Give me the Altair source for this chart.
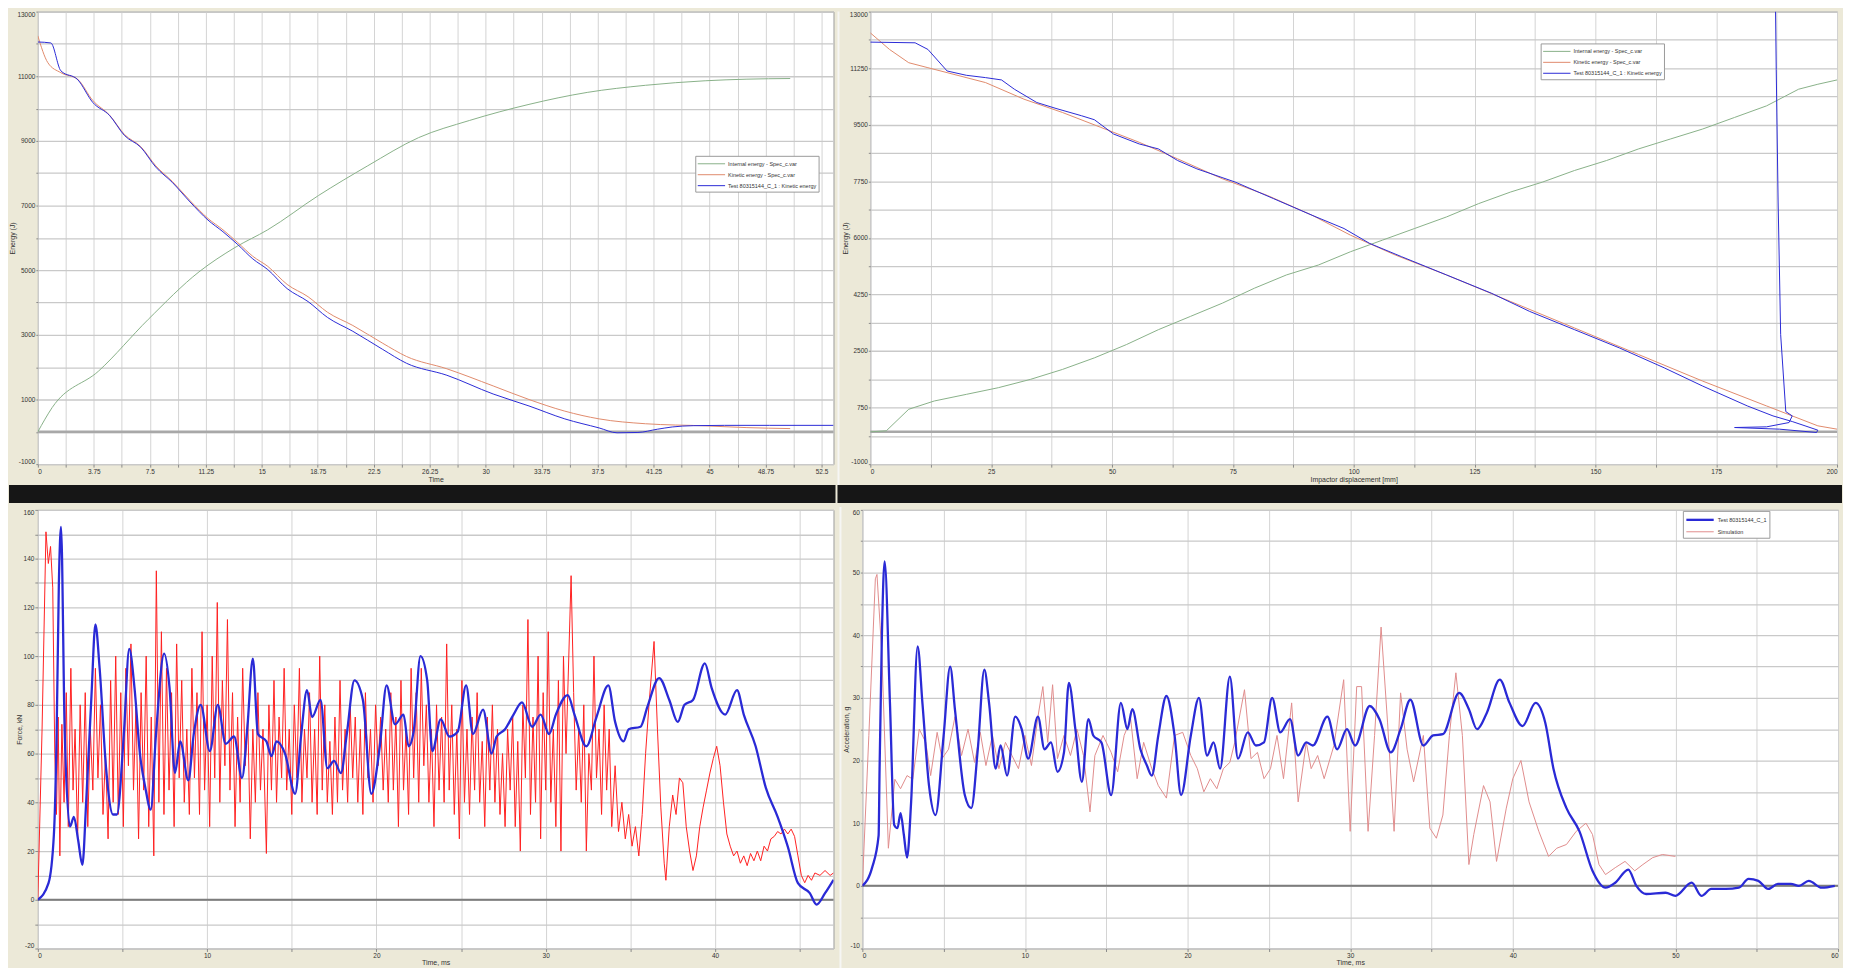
import json
import altair as alt
import pandas as pd

# ------------------------------------------------------------------ data
SERIES_TOP = ["Internal energy - Spec_c.var", "Kinetic energy - Spec_c.var",
              "Test 80315144_C_1 : Kinetic energy"]
SERIES_BOTTOM = ["Test 80315144_C_1", "Simulation"]

# top-left: energy [J] vs time
TL_INTERNAL = [(0, 0), (0.96, 750), (4.07, 1880), (7.4, 3480), (10.8, 4950), (13.2, 5700),
               (15.4, 6250), (18.8, 7310), (22.1, 8230), (25.5, 9100), (28.9, 9630),
               (32.9, 10130), (36.8, 10500), (40.7, 10720), (44.7, 10860), (47.5, 10910),
               (50.4, 10930)]
TL_KINETIC = [(0, 12250), (0.67, 11420), (1.54, 11110), (2.68, 10900), (3.68, 10250), (4.8, 9800),
              (5.8, 9200), (6.9, 8820), (7.9, 8230), (9.0, 7750), (10.2, 7150), (11.4, 6600),
              (12.4, 6250), (13.4, 5850), (14.4, 5430), (15.4, 5120), (16.7, 4560), (18.1, 4180),
              (19.4, 3700), (21.1, 3290), (23.1, 2740), (24.7, 2330), (27.4, 1950), (30.5, 1420),
              (32.9, 1000), (35.3, 640), (37.6, 400), (40.7, 250), (44.7, 185), (47.5, 130),
              (50.4, 100)]
TL_TEST = [(0, 12060), (0.87, 12030), (1.54, 11170), (2.68, 10890), (3.68, 10190), (4.8, 9790),
           (5.8, 9170), (6.9, 8800), (7.9, 8190), (9.0, 7720), (10.2, 7110), (11.4, 6550),
           (12.4, 6190), (13.4, 5790), (14.4, 5350), (15.4, 5020), (16.7, 4430), (18.1, 4030),
           (19.4, 3540), (21.1, 3110), (23.1, 2550), (24.7, 2120), (27.4, 1750), (30.5, 1170),
           (32.9, 800), (35.3, 400), (37.6, 120), (38.8, -30), (40.2, -20), (41.5, 80),
           (42.5, 150), (43.9, 190), (46.0, 200), (49.0, 200), (53.3, 200)]

# top-right: energy [J] vs impactor displacement [mm]
TR_INTERNAL = [(0, 0), (3.31, 31), (7.95, 698), (13.25, 954), (19.87, 1159), (26.49, 1365),
               (33.11, 1621), (39.74, 1929), (46.36, 2288), (52.98, 2698), (59.60, 3160),
               (66.23, 3570), (72.85, 3981), (79.47, 4443), (86.09, 4853), (92.72, 5161),
               (99.34, 5571), (105.96, 5930), (112.58, 6289), (119.21, 6648), (125.83, 7059),
               (132.45, 7418), (139.07, 7726), (145.70, 8085), (152.32, 8393), (158.94, 8752),
               (165.56, 9060), (172.19, 9367), (178.81, 9726), (185.43, 10085), (192.05, 10599),
               (196.03, 10753), (200, 10886)]
TR_KINETIC = [(0, 12343), (3.97, 11830), (7.95, 11419), (11.92, 11265), (15.89, 11112),
              (23.84, 10804), (31.79, 10291), (39.74, 9880), (47.68, 9419), (55.63, 8957),
              (63.58, 8444), (72.85, 7828), (82.12, 7315), (91.39, 6700), (99.34, 6084),
              (108.61, 5469), (119.21, 4853), (132.45, 4032), (145.70, 3211), (158.94, 2391),
              (172.19, 1570), (185.43, 800), (196.03, 185), (200, 82)]
TR_TEST = [(0, 12056), (9.27, 12035), (11.92, 11830), (15.89, 11163), (19.87, 11030),
           (23.84, 10958), (27.15, 10886), (29.80, 10599), (34.44, 10188), (38.41, 10004),
           (43.71, 9778), (46.36, 9655), (50.33, 9213), (55.63, 8906), (59.60, 8752),
           (63.58, 8393), (67.55, 8136), (75.50, 7726), (83.44, 7213), (91.39, 6700),
           (98.01, 6289), (103.31, 5828), (109.93, 5417), (119.21, 4853), (128.48, 4289),
           (136.42, 3724), (145.70, 3160), (154.97, 2596), (164.24, 1980), (172.19, 1416),
           (181.46, 800), (186.75, 492), (190.73, 318), (193.38, 185), (196.03, 51),
           (195.76, -21), (188.08, 82), (178.81, 133), (185.43, 154), (190.07, 287),
           (190.73, 492), (189.40, 626), (188.34, 3006), (187.81, 7110), (187.42, 11214),
           (187.28, 13000)]

# bottom-left: force [kN] vs time [ms]
BL_TEST = [(0, 0), (0.63, 6.8), (0.95, 27), (1.11, 68), (1.24, 129), (1.37, 153), (1.59, 68),
           (1.9, 30), (2.13, 34), (2.38, 24.5), (2.63, 14.3), (2.86, 40.8), (3.17, 84), (3.4, 113),
           (3.65, 95), (4.03, 54), (4.44, 35), (4.67, 35), (5.08, 68), (5.4, 103), (5.71, 87),
           (6.03, 60), (6.35, 46), (6.67, 37), (6.98, 68), (7.46, 101), (7.78, 87), (8.1, 52),
           (8.41, 65), (8.89, 49), (9.21, 68), (9.62, 80), (10.16, 61), (10.63, 80), (11.1, 64),
           (11.59, 67), (12.06, 50), (12.38, 71), (12.7, 99), (13.0, 68), (13.5, 65), (13.8, 59),
           (14.1, 65), (14.6, 60), (15.2, 43.5), (15.56, 68), (15.9, 86), (16.2, 75), (16.7, 82),
           (17.1, 54), (17.5, 57), (17.9, 52), (18.25, 68), (18.7, 90), (19.2, 82), (19.7, 43.5),
           (20.2, 63), (20.6, 88), (21.1, 72), (21.6, 76), (21.9, 63), (22.2, 69), (22.6, 100),
           (23.0, 90), (23.3, 61), (23.8, 74), (24.3, 67), (24.8, 69), (25.3, 88), (25.7, 68),
           (26.3, 78), (26.8, 60), (27.1, 67), (27.6, 70), (28.1, 76), (28.6, 81), (29.2, 71),
           (29.7, 76), (30.2, 68), (30.6, 76), (31.3, 84), (31.7, 76), (32.4, 63), (33.0, 75),
           (33.7, 88), (34.1, 73), (34.6, 65), (34.9, 70), (35.6, 71), (36.0, 79), (36.7, 91),
           (37.3, 82), (37.8, 73), (38.2, 80), (38.7, 82), (39.4, 97), (39.8, 87), (40.6, 76),
           (41.3, 86), (41.7, 76), (42.4, 63), (43.0, 46), (43.7, 34), (44.3, 21.8), (44.9, 6.8),
           (45.6, 2.7), (46.0, -2), (46.5, 2.7), (47.0, 8.2)]
BL_SIM = [(0, 0), (0.25, 70), (0.48, 151), (0.62, 138), (0.75, 145), (0.88, 128), (1.0, 60),
          (1.1, 35), (1.2, 75), (1.3, 18), (1.42, 72), (1.55, 40), (1.68, 85), (1.8, 30),
          (1.95, 95), (2.08, 45), (2.2, 70), (2.35, 25), (2.5, 80), (2.65, 40), (2.8, 85),
          (2.95, 30), (3.1, 70), (3.25, 45), (3.4, 95), (3.55, 50), (3.7, 80), (3.85, 35),
          (4.0, 60), (4.15, 25), (4.3, 90), (4.45, 40), (4.6, 100), (4.75, 35), (4.9, 85),
          (5.05, 30), (5.2, 95), (5.35, 55), (5.5, 105), (5.65, 45), (5.8, 80), (5.95, 25),
          (6.1, 85), (6.25, 45), (6.4, 100), (6.55, 30), (6.7, 75), (6.85, 18), (7.0, 135),
          (7.15, 40), (7.3, 110), (7.45, 35), (7.6, 95), (7.75, 45), (7.9, 85), (8.05, 30),
          (8.2, 105), (8.35, 50), (8.5, 90), (8.65, 40), (8.8, 70), (8.95, 35), (9.1, 95),
          (9.25, 50), (9.4, 85), (9.55, 35), (9.7, 110), (9.85, 45), (10.0, 80), (10.15, 30),
          (10.3, 100), (10.45, 50), (10.6, 122), (10.75, 40), (10.9, 90), (11.05, 55),
          (11.2, 115), (11.35, 45), (11.5, 85), (11.65, 30), (11.8, 75), (11.95, 40), (12.1, 95),
          (12.25, 55), (12.4, 75), (12.55, 25), (12.7, 70), (12.85, 40), (13.0, 85), (13.15, 45),
          (13.3, 70), (13.5, 19), (13.65, 80), (13.8, 45), (13.95, 90), (14.1, 40), (14.25, 75),
          (14.4, 50), (14.55, 95), (14.7, 45), (14.85, 70), (15.0, 35), (15.15, 80), (15.3, 50),
          (15.45, 95), (15.6, 40), (15.75, 70), (15.9, 50), (16.05, 85), (16.2, 40), (16.35, 70),
          (16.5, 35), (16.65, 100), (16.8, 45), (16.95, 80), (17.1, 40), (17.25, 65), (17.4, 35),
          (17.55, 75), (17.7, 40), (17.85, 90), (18.0, 45), (18.15, 70), (18.3, 40), (18.45, 80),
          (18.6, 50), (18.75, 75), (18.9, 40), (19.05, 70), (19.2, 35), (19.35, 85), (19.5, 50),
          (19.65, 70), (19.8, 40), (19.95, 80), (20.1, 55), (20.25, 75), (20.4, 45), (20.55, 70),
          (20.7, 40), (20.85, 85), (21.0, 45), (21.15, 75), (21.3, 30), (21.45, 90), (21.6, 45),
          (21.75, 70), (21.9, 35), (22.05, 95), (22.2, 50), (22.35, 85), (22.5, 40), (22.65, 95),
          (22.8, 55), (22.95, 80), (23.1, 40), (23.25, 70), (23.4, 30), (23.55, 80), (23.7, 45),
          (23.85, 75), (24.0, 40), (24.15, 105), (24.3, 45), (24.45, 80), (24.6, 35), (24.75, 70),
          (24.9, 25), (25.05, 90), (25.2, 40), (25.35, 70), (25.5, 35), (25.65, 75), (25.8, 45),
          (25.95, 85), (26.1, 40), (26.25, 65), (26.4, 30), (26.55, 75), (26.7, 45), (26.85, 80),
          (27.0, 40), (27.15, 70), (27.3, 35), (27.45, 60), (27.6, 30), (27.75, 70), (27.9, 45),
          (28.05, 75), (28.2, 30), (28.35, 65), (28.5, 20), (28.65, 80), (28.8, 50), (28.95, 115),
          (29.1, 35), (29.25, 75), (29.4, 40), (29.55, 100), (29.7, 25), (29.85, 85), (30.0, 45),
          (30.15, 110), (30.3, 40), (30.45, 70), (30.6, 30), (30.75, 90), (30.9, 20), (31.05, 100),
          (31.2, 60), (31.5, 133), (31.65, 85), (31.8, 45), (31.95, 70), (32.1, 40), (32.25, 80),
          (32.4, 20), (32.55, 60), (32.7, 45), (32.85, 100), (33.0, 50), (33.15, 70), (33.3, 35),
          (33.45, 80), (33.6, 45), (33.75, 70), (33.9, 30), (34.1, 55), (34.3, 28), (34.5, 40),
          (34.7, 25), (34.9, 35), (35.1, 22), (35.3, 30), (35.5, 18), (35.7, 35), (35.9, 60),
          (36.1, 80), (36.4, 106), (36.6, 70), (36.8, 38), (37.0, 15), (37.1, 8), (37.3, 30),
          (37.5, 43), (37.7, 35), (37.9, 50), (38.1, 48), (38.3, 30), (38.5, 20), (38.7, 12),
          (38.9, 18), (39.1, 30), (39.3, 38), (39.5, 45), (39.7, 52), (39.9, 58), (40.1, 63),
          (40.3, 55), (40.5, 40), (40.7, 27), (40.9, 22), (41.1, 18), (41.3, 20), (41.5, 15),
          (41.7, 18), (41.9, 14), (42.1, 19), (42.3, 16), (42.5, 20), (42.7, 16), (42.9, 22),
          (43.1, 20), (43.3, 25), (43.5, 26), (43.7, 28), (43.9, 27), (44.1, 29), (44.3, 27),
          (44.5, 29), (44.7, 26), (44.9, 18), (45.1, 10), (45.3, 7), (45.5, 10), (45.7, 8),
          (45.9, 11), (46.2, 10), (46.5, 12), (46.8, 10), (47.0, 11)]

# bottom-right: acceleration [g] vs time [ms]
BR_TEST = [(0, 0), (0.6, 2.9), (1.0, 8), (1.06, 18.7), (1.2, 39.7), (1.37, 51.8), (1.7, 29),
           (1.96, 9.7), (2.16, 9.2), (2.35, 11.6), (2.55, 8.2), (2.75, 4.5), (3.0, 13.4),
           (3.4, 38.2), (3.7, 29), (4.1, 16), (4.5, 11.3), (5.0, 24), (5.4, 35), (5.7, 28),
           (6.3, 14.5), (6.7, 12.4), (7.1, 21.8), (7.5, 34.5), (7.8, 29), (8.2, 18.7), (8.5, 22.4),
           (8.9, 17.6), (9.4, 27), (9.8, 25), (10.2, 20.3), (10.8, 27), (11.2, 21.8), (11.6, 22.9),
           (12.0, 18.2), (12.4, 21.3), (12.7, 32.4), (13.1, 25), (13.5, 16.6), (13.9, 26.6),
           (14.2, 24), (14.7, 22.9), (15.3, 14.5), (15.9, 29.2), (16.3, 25), (16.6, 28.2),
           (17.1, 21.8), (17.5, 19.2), (17.8, 17.6), (18.2, 24), (18.7, 30.3), (19.2, 24),
           (19.6, 14.5), (20.2, 24), (20.7, 30), (21.2, 20.8), (21.6, 22.9), (22.0, 18.7),
           (22.6, 33.4), (23.1, 20.3), (23.7, 24.5), (24.2, 22.4), (24.7, 22.9), (25.2, 30),
           (25.7, 24.5), (26.3, 26.6), (26.8, 20.8), (27.3, 22.9), (27.7, 22.4), (28.6, 27),
           (29.2, 21.8), (29.8, 25), (30.3, 22.4), (31.2, 28.7), (31.8, 26.6), (32.5, 21.3),
           (33.1, 25), (33.7, 29.7), (34.5, 22.4), (35.1, 24), (35.7, 24.2), (36.7, 30.8),
           (37.3, 28.2), (37.8, 25), (38.4, 27.6), (39.2, 32.9), (39.8, 29.2), (40.6, 25.5),
           (41.4, 29.2), (42.0, 26), (42.5, 18.7), (43.3, 12.4), (44.1, 8.7), (44.9, 2.4),
           (45.7, -0.3), (46.3, 0.5), (47.1, 2.6), (47.6, 0), (48.2, -1.3), (49.4, -1.1),
           (50.0, -1.6), (51.0, 0.5), (51.6, -1.6), (52.2, -0.5), (53.1, -0.5), (53.9, -0.3),
           (54.5, 1.1), (55.1, 0.8), (55.7, -0.5), (56.3, 0.3), (57.1, 0.3), (57.6, 0),
           (58.2, 0.8), (59.0, -0.3), (59.8, 0)]
BR_SIM = [(0, 0), (0.4, 24), (0.8, 49), (0.9, 49.7), (1.2, 37), (1.6, 6), (2.0, 17), (2.35, 15.5),
          (2.75, 17.6), (3.1, 17), (3.5, 25), (3.9, 22.9), (4.2, 17.6), (4.6, 24.5), (4.9, 20.3),
          (5.3, 21.8), (5.7, 27), (6.1, 20.8), (6.5, 25), (6.9, 19.7), (7.25, 24.5), (7.6, 19.2),
          (8.0, 24), (8.4, 18.7), (8.8, 22.9), (9.2, 20.8), (9.6, 18.7), (10.0, 24), (10.4, 19.2),
          (10.8, 27), (11.1, 31.8), (11.4, 22.9), (11.7, 32.1), (12.0, 20.3), (12.4, 24),
          (12.8, 20.8), (13.2, 25), (13.6, 20.8), (14.0, 11.8), (14.3, 20.8), (14.8, 24),
          (15.3, 21.3), (15.7, 18.2), (16.1, 24), (16.5, 26.6), (16.9, 17.1), (17.3, 22.9),
          (17.8, 18.7), (18.2, 16), (18.7, 14), (19.2, 24), (19.7, 24.5), (20.2, 20.8),
          (20.6, 18.7), (21.0, 15), (21.4, 17.1), (21.8, 15.5), (22.2, 18.7), (22.6, 19.7),
          (22.9, 22.9), (23.5, 31.3), (23.9, 20.3), (24.3, 21.3), (24.7, 17.1), (25.1, 18.7),
          (25.5, 24), (25.9, 17.1), (26.4, 29.2), (26.8, 13.4), (27.3, 22.9), (27.6, 18.7),
          (28.0, 20.8), (28.4, 17.1), (29.0, 22.4), (29.6, 32.9), (30.0, 8.7), (30.4, 31.8),
          (30.7, 31.8), (31.1, 8.7), (31.5, 24), (31.9, 41.3), (32.3, 26), (32.7, 8.7),
          (33.1, 30.8), (33.5, 21.8), (33.9, 16.6), (34.5, 24), (34.9, 9.2), (35.3, 7.6),
          (35.7, 11.3), (36.1, 24), (36.5, 34), (36.9, 24), (37.3, 3.4), (37.6, 8.2), (38.2, 16),
          (38.6, 13.4), (39.0, 3.9), (39.6, 12.4), (40.0, 17.1), (40.5, 20), (41.0, 13.4),
          (41.6, 8.7), (42.2, 4.7), (42.7, 6), (43.3, 6.6), (43.9, 8.7), (44.5, 10), (44.9, 8.2),
          (45.3, 3.4), (45.7, 1.8), (46.3, 2.9), (46.9, 3.9), (47.5, 2.4), (48.0, 3.4),
          (48.6, 4.5), (49.2, 5), (50.0, 4.7)]

# tick / grid values
TL_X_GRID = [0, 1.875, 3.75, 5.625, 7.5, 9.375, 11.25, 13.125, 15, 16.875, 18.75, 20.625, 22.5,
             24.375, 26.25, 28.125, 30, 31.875, 33.75, 35.625, 37.5, 39.375, 41.25, 43.125, 45,
             46.875, 48.75, 50.625, 52.5]
TL_X_LABELS = [0, 3.75, 7.5, 11.25, 15, 18.75, 22.5, 26.25, 30, 33.75, 37.5, 41.25, 45, 48.75, 52.5]
TL_Y_GRID = [-1000, 0, 1000, 2000, 3000, 4000, 5000, 6000, 7000, 8000, 9000, 10000, 11000,
             12000, 13000]
TL_Y_LABELS = [-1000, 1000, 3000, 5000, 7000, 9000, 11000, 13000]
TR_X_GRID = [0, 12.5, 25, 37.5, 50, 62.5, 75, 87.5, 100, 112.5, 125, 137.5, 150, 162.5, 175,
             187.5, 200]
TR_X_LABELS = [0, 25, 50, 75, 100, 125, 150, 175, 200]
TR_Y_GRID = [-1000, -125, 750, 1625, 2500, 3375, 4250, 5125, 6000, 6875, 7750, 8625, 9500,
             10375, 11250, 12125, 13000]
TR_Y_LABELS = [-1000, 750, 2500, 4250, 6000, 7750, 9500, 11250, 13000]
BL_X_GRID = [0, 5, 10, 15, 20, 25, 30, 35, 40, 45]
BL_X_LABELS = [0, 10, 20, 30, 40]
BL_Y_GRID = [-20, -10, 0, 10, 20, 30, 40, 50, 60, 70, 80, 90, 100, 110, 120, 130, 140, 150, 160]
BL_Y_LABELS = [-20, 0, 20, 40, 60, 80, 100, 120, 140, 160]
BR_X_GRID = [0, 5, 10, 15, 20, 25, 30, 35, 40, 45, 50, 55, 60]
BR_X_LABELS = [0, 10, 20, 30, 40, 50, 60]
BR_Y_GRID = [-10, -5, 0, 5, 10, 15, 20, 25, 30, 35, 40, 45, 50, 55, 60]
BR_Y_LABELS = [-10, 0, 10, 20, 30, 40, 50, 60]

# ------------------------------------------------------------------ style
FONT = "Liberation Sans"
BEIGE = "#ECE9D8"
BAND = "#161616"
SEP = "#f6f6f4"
BLUE = "#2a2ad6"
GREEN_T = "#88b088"
RED_T = "#e08a6c"
RED_BL = "#ff2020"
RED_BR = "#e08c8c"


def frame(pairs, name, field):
    return pd.DataFrame({"x": [p[0] for p in pairs], "y": [p[1] for p in pairs],
                         field: name, "i": list(range(len(pairs)))})


def axis(title, grid_vals, label_vals, **kw):
    expr = ("indexof(" + json.dumps(label_vals) + ", datum.value) >= 0 ? '' + datum.value : ''")
    base = dict(title=title, values=grid_vals, labelExpr=expr, grid=True,
                gridColor="#d4d4d4", gridWidth=1, domain=False, tickColor="#8a8a8a",
                tickSize=3, labelFont=FONT, labelFontSize=6.5, labelColor="#333333",
                titleFont=FONT, titleFontSize=7, titleFontWeight="normal",
                titleColor="#333333", labelPadding=1, titlePadding=1)
    base.update(kw)
    return alt.Axis(**base)


def legend(lx, ly, size=5.5):
    # long horizontal stroke symbol in a short (11 px) legend row
    return alt.Legend(orient="none", legendX=lx, legendY=ly, title=None, fillColor="white",
                      strokeColor="#9a9a9a", padding=2, labelFont=FONT, labelFontSize=size,
                      labelColor="#333333", symbolType="M -1 0 L 4 0", symbolSize=121,
                      rowPadding=1, labelLimit=300, labelOffset=19)


ONE = pd.DataFrame({"k": [0]})


def rect(x, x2, y, y2, color, opacity=1.0):
    return alt.Chart(ONE).mark_rect(color=color, opacity=opacity).encode(
        x=alt.value(x), x2=alt.value(x2), y=alt.value(y), y2=alt.value(y2))


def panel(W, H, field, layers, xdom, ydom, xax, yax, dom, colors, widths, leg,
          zero_color, zero_w, deco):
    X = alt.X("x:Q", scale=alt.Scale(domain=xdom, nice=False, zero=False), axis=xax)
    Y = alt.Y("y:Q", scale=alt.Scale(domain=ydom, nice=False, zero=False), axis=yax)
    col = alt.Color(field + ":N", scale=alt.Scale(domain=dom, range=colors), legend=leg)
    sw = alt.StrokeWidth(field + ":N", scale=alt.Scale(domain=dom, range=widths), legend=leg)
    out = [alt.Chart(pd.DataFrame({"y": [0]})).mark_rule(color=zero_color, strokeWidth=zero_w)
           .encode(y=Y)]
    for pairs, name, interp in layers:
        out.append(alt.Chart(frame(pairs, name, field)).mark_line(interpolate=interp, clip=True)
                   .encode(x=X, y=Y, color=col, strokeWidth=sw, order=alt.Order("i:Q")))
    out += deco
    return alt.layer(*out).properties(width=W, height=H)


# ------------------------------------------------------------------ panels
TLW, TLH = 800, 455
TRW, TRH = 972, 455
BLW, BLH = 800, 441
BRW, BRH = 981, 441

YGRID = dict(gridColor="#c9c9c9", gridWidth=1.3, labelFlush=True)

tl = panel(
    TLW, TLH, "s_tl",
    [(TL_INTERNAL, SERIES_TOP[0], "monotone"),
     (TL_KINETIC, SERIES_TOP[1], "monotone"),
     (TL_TEST, SERIES_TOP[2], "monotone")],
    [0, 53.3], [-1000, 13000],
    axis("Time", TL_X_GRID, TL_X_LABELS),
    axis("Energy (J)", TL_Y_GRID, TL_Y_LABELS, tickSize=2, **YGRID),
    SERIES_TOP, [GREEN_T, RED_T, BLUE], [1, 1, 2.3], legend(661, 145),
    "#a8a8a8", 2.5,
    [rect(-29, TLW + 2, TLH + 21, TLH + 39, BAND)])

tr = panel(
    TRW, TRH, "s_tr",
    [(TR_INTERNAL, SERIES_TOP[0], "linear"),
     (TR_KINETIC, SERIES_TOP[1], "linear"),
     (TR_TEST, SERIES_TOP[2], "linear")],
    [0, 200], [-1000, 13000],
    axis("Impactor displacement [mm]", TR_X_GRID, TR_X_LABELS),
    axis("Energy (J)", TR_Y_GRID, TR_Y_LABELS, tickSize=2, **YGRID),
    SERIES_TOP, [GREEN_T, RED_T, BLUE], [1, 1, 2.3], legend(674, 32),
    "#a8a8a8", 2.5,
    [rect(-33, -31, 0, TRH + 21, SEP), rect(-33, TRW + 5, TRH + 21, TRH + 39, BAND)])

bl = panel(
    BLW, BLH, "s_bl",
    [(BL_SIM, SERIES_BOTTOM[1], "linear"),
     (BL_TEST, SERIES_BOTTOM[0], "monotone")],
    [0, 47], [-20, 160],
    axis("Time, ms", BL_X_GRID, BL_X_LABELS, titlePadding=0),
    axis("Force, kN", BL_Y_GRID, BL_Y_LABELS, **YGRID),
    SERIES_BOTTOM, [BLUE, RED_BL], [2.3, 1], None,
    "#7d7d7d", 2,
    [rect(-27, -26, 0, 1, BEIGE, 0.0)])

br = panel(
    BRW, BRH, "s_br",
    [(BR_SIM, SERIES_BOTTOM[1], "linear"),
     (BR_TEST, SERIES_BOTTOM[0], "monotone")],
    [0, 60], [-10, 60],
    axis("Time, ms", BR_X_GRID, BR_X_LABELS, titlePadding=0),
    axis("Acceleration, g", BR_Y_GRID, BR_Y_LABELS, tickSize=2, **YGRID),
    SERIES_BOTTOM, [BLUE, RED_BR], [2.3, 1], legend(825, 1),
    "#7d7d7d", 2,
    [rect(-23, -21, -3, BRH + 20, SEP)])

IND = dict(color="independent", strokeWidth="independent")
top = alt.hconcat(tl, tr, spacing=0).resolve_scale(**IND)
bottom = alt.hconcat(bl, br, spacing=3).resolve_scale(**IND)

chart = alt.vconcat(top, bottom, spacing=2).resolve_scale(**IND).properties(
    background=BEIGE, padding=0
).configure_view(stroke="#9b9b9b", strokeWidth=1, fill="white")

chart.save("out.html", embed_options={"renderer": "svg", "actions": False})
